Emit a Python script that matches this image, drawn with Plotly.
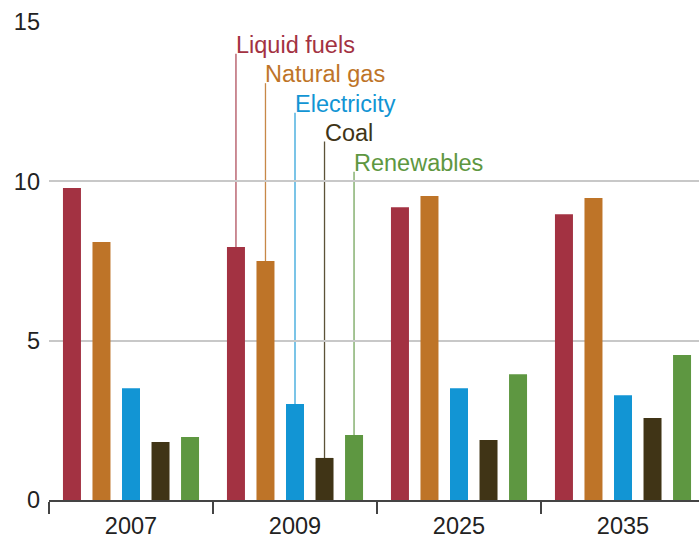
import plotly.graph_objects as go

categories = ["2007", "2009", "2025", "2035"]
series_names = ["Liquid fuels", "Natural gas", "Electricity", "Coal", "Renewables"]
liquid_fuels = [9.79, 7.94, 9.19, 8.97]
natural_gas = [8.10, 7.50, 9.54, 9.48]
electricity = [3.51, 3.01, 3.51, 3.29]
coal = [1.82, 1.32, 1.88, 2.57]
renewables = [1.98, 2.04, 3.95, 4.55]
label_tops = [14.0, 13.08, 12.15, 11.25, 10.3]  # top of leader lines for 2009 labels
y_ticks = [0, 5, 10, 15]

colors = ["#A33242", "#BE7428", "#1295D4", "#403416", "#5E9741"]
values = [liquid_fuels, natural_gas, electricity, coal, renewables]

FONT = "Liberation Sans, Arial, sans-serif"
FS = 23.5
bargap = 0.1
bargroupgap = 0.39

fig = go.Figure()
for name, vals, col in zip(series_names, values, colors):
    fig.add_trace(go.Bar(x=categories, y=vals, name=name, marker=dict(color=col, line=dict(width=0))))

# leader lines and labels at the 2009 group
n = len(series_names)
slot = (1 - bargap) / n
label_cat = categories.index("2009")
for i, (name, col) in enumerate(zip(series_names, colors)):
    xc = label_cat + (i - (n - 1) / 2) * slot
    fig.add_shape(type="line", xref="x", yref="y", x0=xc, x1=xc,
                  y0=values[i][label_cat], y1=label_tops[i],
                  line=dict(color=col, width=1.3), opacity=0.85, layer="below")
    fig.add_annotation(x=xc, y=label_tops[i], xref="x", yref="y", text=name,
                       showarrow=False, xanchor="left", yanchor="bottom",
                       xshift=-2, yshift=-6,
                       font=dict(family=FONT, size=FS, color=col))

fig.update_layout(
    width=699, height=537,
    margin=dict(l=49, r=0, t=22, b=37, autoexpand=False),
    plot_bgcolor="white", paper_bgcolor="white",
    barmode="group", bargap=bargap, bargroupgap=bargroupgap,
    showlegend=False,
    font=dict(family=FONT, size=FS, color="#222222"),
)
fig.update_xaxes(
    type="category", range=[-0.5, 3.5 - 6 / 164], automargin=False,
    tickson="boundaries", ticks="outside", ticklen=12, tickcolor="#444444", tickwidth=1.5,
    showline=True, linecolor="#444444", linewidth=2, ticklabelstandoff=4,
    showgrid=False, tickfont=dict(family=FONT, size=FS, color="#222222"),
)
fig.update_yaxes(
    range=[0, 15], tickvals=y_ticks, showgrid=True, gridcolor="#c8c8c8", gridwidth=1.6,
    automargin=False,
    zeroline=False, showline=False, ticks="", ticklabelstandoff=8,
    tickfont=dict(family=FONT, size=FS, color="#222222"),
)

fig.write_html(
    "out.html",
    config={"displayModeBar": False},
    post_script="document.body.style.margin='0';document.body.style.overflow='hidden';",
)
